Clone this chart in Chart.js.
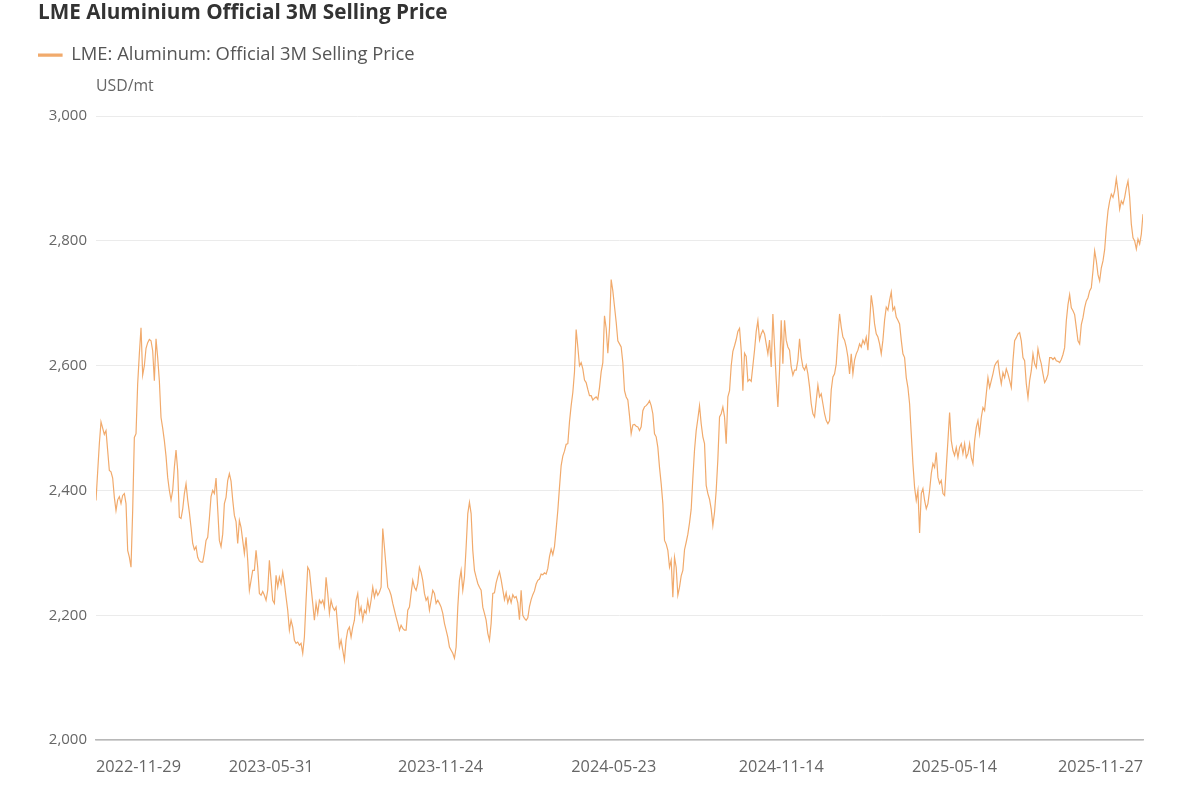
<!DOCTYPE html>
<html>
<head>
<meta charset="utf-8">
<script src="https://cdn.jsdelivr.net/npm/chart.js@4.4.1/dist/chart.umd.min.js"></script>
<style>
  html, body { margin: 0; padding: 0; background: #fff; }
  #wrap { width: 1200px; height: 800px; }
</style>
</head>
<body>
<div id="wrap"><canvas id="priceChart" width="1200" height="800"></canvas></div>
<script>
// x-axis tick labels (first and last are the first and last observation)
const tickDates = ['2022-11-29', '2023-05-31', '2023-11-24', '2024-05-23', '2024-11-14', '2025-05-14', '2025-11-27'];

// LME aluminium 3M selling price, USD/mt, evenly spaced readings from left to right
const seg1 = [2384,2430,2475,2510,2500,2490,2496,2464,2432,2430, 2420,2389,2368,2385,2390,2379,2392,2395,2379,2304,
  2293,2277,2368,2485,2491,2571,2619,2661,2585,2600, 2628,2637,2642,2640,2624,2576,2643,2613,2576,2517,
  2500,2480,2455,2421,2400,2385,2400,2437,2465,2432, 2357,2355,2370,2395,2411,2385,2365,2341,2315,2305,
  2310,2293,2287,2285,2285,2300,2320,2325,2355,2390, 2400,2395,2420,2370,2320,2310,2330];
const seg2 = [2379,2389,2416,2427,2415,2385,2360,2350,2315,2352, 2341,2320,2299,2325,2288,2240,2256,2272,2272,2304,
  2277,2235,2232,2238,2232,2224,2240,2288,2256,2224, 2219,2264,2245,2261,2251,2269,2251,2229,2208,2176,
  2192,2181,2160,2155,2157,2152,2155,2139,2165,2224, 2277,2272,2245,2219,2192,2219,2203,2224,2219,2224,
  2213,2261,2235,2203,2224,2213,2208,2213,2181,2149, 2160,2144,2128,2160,2176,2181,2165,2181,2192,2224, 2235];
const seg3 = [2203,2213,2192,2208,2203,2224,2208,2224,2245,2229, 2240,2232,2237,2245,2339,2309,2277,2245,2240,2232,
  2219,2208,2197,2187,2176,2184,2179,2176,2176,2208, 2213,2235,2256,2245,2240,2251,2277,2269,2256,2235,
  2224,2229,2208,2224,2240,2235,2219,2224,2219,2213, 2203,2187,2176,2165,2149,2144,2139,2131,2149,2213,
  2256,2272,2240,2261,2309,2363,2381,2363,2304,2272, 2261,2251,2245,2240,2213,2203,2192,2171,2160,2187, 2235];
const seg4 = [2236,2252,2262,2270,2257,2241,2225,2236,2220,2230, 2220,2233,2228,2230,2220,2193,2240,2200,2195,2192,
  2196,2214,2225,2233,2239,2250,2256,2258,2266,2265, 2268,2266,2275,2294,2306,2297,2310,2338,2368,2405,
  2440,2455,2463,2474,2475,2510,2536,2557,2590,2658, 2630,2600,2605,2595,2577,2573,2562,2552,2552,2545,
  2548,2550,2546,2565,2590,2605,2680,2660,2620,2660, 2738,2720,2695,2670,2640,2635,2630,2605,2560,2550, 2545];
const seg5 = [2520,2491,2505,2506,2503,2502,2496,2502,2528,2534, 2536,2539,2544,2536,2523,2491,2486,2469,2437,2411,
  2379,2320,2314,2304,2277,2288,2229,2293,2277,2232, 2245,2263,2272,2305,2317,2330,2348,2370,2420,2465,
  2496,2515,2536,2507,2486,2475,2408,2395,2386,2370, 2344,2365,2400,2450,2518,2523,2534,2518,2475,2550,
  2560,2600,2623,2632,2642,2655,2660,2625,2560,2620, 2615,2575,2578,2575,2600,2625,2655,2672,2641,2651,
  2657,2651,2635,2619];
const seg6 = [2641,2598,2683,2630,2577,2534,2593,2673,2603,2673, 2641,2630,2625,2598,2585,2593,2593,2609,2643,2614,
  2598,2593,2601,2587,2566,2539,2523,2518,2544,2569, 2550,2555,2539,2523,2512,2507,2512,2561,2582,2587,
  2603,2646,2683,2662,2646,2641,2630,2614,2587,2619, 2587,2609,2619,2625,2635,2630,2641,2635,2646,2625,
  2667,2713,2694,2667,2651,2646,2635,2619,2641,2673, 2694,2689,2705,2718,2689,2694,2678,2673,2667,2641, 2619];
const seg7 = [2613,2581,2565,2539,2491,2443,2405,2384,2400,2332, 2395,2403,2384,2371,2379,2400,2427,2443,2437,2461,
  2421,2411,2416,2395,2392,2437,2480,2525,2480,2464, 2456,2469,2453,2469,2475,2459,2475,2453,2459,2475,
  2453,2443,2480,2501,2512,2491,2517,2533,2528,2555, 2581,2565,2576,2587,2600,2605,2608,2587,2571,2589,
  2581,2595,2587,2576,2565,2608,2640,2645,2651,2653, 2640,2613,2608,2571,2549,2576,2592,2619,2603,2597,
  2627,2613,2603,2587];
const seg8 = [2573,2578,2586,2613,2613,2610,2613,2608,2607,2605, 2610,2618,2629,2672,2698,2714,2693,2688,2682,2661,
  2640,2635,2666,2677,2693,2704,2709,2720,2725,2752, 2784,2768,2746,2736,2757,2768,2786,2821,2848,2864,
  2875,2870,2880,2900,2880,2851,2864,2859,2870,2885, 2896,2870,2827,2805,2800,2787,2803,2795,2811,2843];

const yTicks = [2000, 2200, 2400, 2600, 2800, 3000];

const prices = [].concat(seg1, seg2, seg3, seg4, seg5, seg6, seg7, seg8);
const n = prices.length;

// place each date label by its share of the time span
const t0 = Date.parse(tickDates[0]);
const t1 = Date.parse(tickDates[tickDates.length - 1]);
const tickPos = tickDates.map(d => (Date.parse(d) - t0) / (t1 - t0) * (n - 1));

const lineColor = 'rgb(241, 170, 108)';
Chart.defaults.font.family = "'Open Sans', 'Noto Sans', sans-serif";

const ctx = document.getElementById('priceChart').getContext('2d');
const priceChart = new Chart(ctx, {
    type: 'line',
    data: {
        datasets: [{
            label: 'LME: Aluminum: Official 3M Selling Price',
            data: prices.map((v, i) => ({ x: i, y: v })),
            borderColor: lineColor,
            backgroundColor: lineColor,
            borderWidth: 1.2,
            pointRadius: 0,
            tension: 0
        }]
    },
    options: {
        responsive: false,
        animation: false,
        layout: { padding: { left: 38, right: 57, top: 0, bottom: 0 } },
        plugins: {
            title: {
                display: true,
                text: 'LME Aluminium Official 3M Selling Price',
                align: 'start',
                color: '#333',
                font: { size: 20.7, weight: 'bold' },
                padding: { top: 1, bottom: 20 }
            },
            legend: {
                align: 'start',
                labels: {
                    boxWidth: 24,
                    boxHeight: 2,
                    padding: 0,
                    color: '#555',
                    font: { size: 18.4 }
                }
            },
            subtitle: {
                display: true,
                text: 'USD/mt',
                align: 'start',
                fullSize: false,
                weight: 500,
                color: '#666',
                font: { size: 15.8 },
                padding: { top: 3, bottom: 20 }
            },
            tooltip: { enabled: false }
        },
        scales: {
            x: {
                type: 'linear',
                min: 0,
                max: n - 1,
                grid: { display: false },
                border: { display: true, color: '#b8b8b8', width: 1.5 },
                afterBuildTicks: scale => { scale.ticks = tickPos.map(v => ({ value: v })); },
                afterFit: scale => { scale.height = 60; },
                ticks: {
                    align: 'inner',
                    maxRotation: 0,
                    autoSkip: false,
                    padding: 10,
                    color: '#666',
                    font: { size: 16.3 },
                    callback: (v, i) => tickDates[i]
                }
            },
            y: {
                min: yTicks[0],
                max: yTicks[yTicks.length - 1],
                afterFit: scale => { scale.width = 58; },
                border: { display: false },
                grid: { color: '#ebebeb', drawTicks: false },
                ticks: {
                    stepSize: 200,
                    padding: 9,
                    color: '#666',
                    font: { size: 15 },
                    callback: v => v.toLocaleString('en-US')
                }
            }
        }
    }
});
</script>
</body>
</html>
